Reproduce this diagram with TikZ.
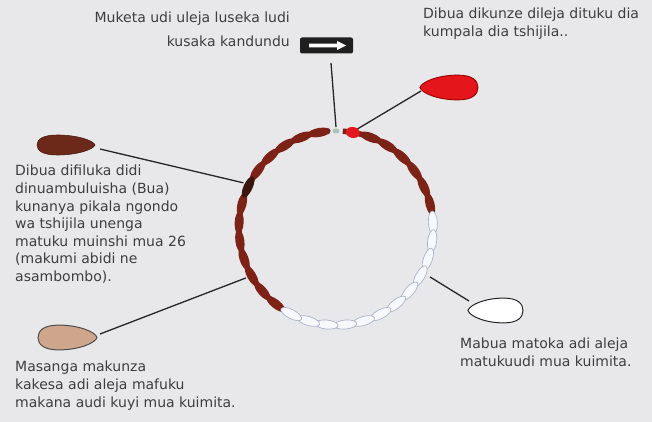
\documentclass[tikz,border=0pt]{standalone}
\usepackage{fontspec}
\setmainfont{DejaVu Sans}
\usetikzlibrary{shapes.geometric,calc}

\definecolor{bgc}{RGB}{232,232,234}
\definecolor{txt}{RGB}{62,62,62}
\definecolor{beadbrown}{RGB}{124,34,22}
\definecolor{beaddark}{RGB}{58,22,14}
\definecolor{beadred}{RGB}{226,24,30}
\definecolor{whitebead}{RGB}{247,248,252}
\definecolor{whiteedge}{RGB}{172,178,204}
\definecolor{ringgrey}{RGB}{170,196,186}
\definecolor{dropred}{RGB}{228,22,28}
\definecolor{dropbrown}{RGB}{108,40,24}
\definecolor{droptan}{RGB}{206,166,140}

\tikzset{
  blurb/.style={font=\fontsize{14}{17.6}\selectfont, text=txt, inner sep=0pt, align=left},
  pointer/.style={draw=black!85, line width=1.3pt},
  bead/.style={ellipse, minimum width=23pt, minimum height=9pt, inner sep=0pt},
  brownbead/.style={bead, fill=beadbrown},
  darkbead/.style={bead, fill=beaddark},
  redbead/.style={bead, fill=beadred},
  whitebeadst/.style={bead, fill=whitebead, draw=whiteedge, line width=0.7pt},
  cord/.style={draw=beadbrown, line width=5.5pt},
  droplet/.pic={\path[pic actions] (1,0) .. controls (0.95,-0.35) and (0.4,-0.8) .. (-0.3,-0.8)
      .. controls (-0.8,-0.8) and (-1,-0.45) .. (-1,0)
      .. controls (-1,0.45) and (-0.8,0.8) .. (-0.3,0.8)
      .. controls (0.4,0.8) and (0.95,0.35) .. (1,0) -- cycle;},
}

\begin{document}
\begin{tikzpicture}[x=1pt,y=-1pt]
\fill[bgc] (0,0) rectangle (652,422);
\useasboundingbox (0,0) rectangle (652,422);

% centre of the bead necklace; y grows downwards, so polar angles are negated
\coordinate (c) at (336,228);

% ends of the pointer lines
\coordinate (ringend) at ($(c)+(-90:101)$);
\coordinate (redend) at ($(c)+(-78:101)$);
\coordinate (darkend) at ($(c)+(-154:103)$);
\coordinate (tanend) at ($(c)+(-209:103)$);
\coordinate (whiteend) at ($(c)+(27.5:106)$);

\coordinate (boxfoot) at (331,63);
\coordinate (redtip) at (421,91);
\coordinate (browntip) at (100,149);
\coordinate (tantip) at (100,334);
\coordinate (whitetip) at (469,301);

% pointer lines
\draw[pointer] (boxfoot) -- (ringend);
\draw[pointer] (redtip) -- (redend);
\draw[pointer] (browntip) -- (darkend);
\draw[pointer] (tantip) -- (tanend);
\draw[pointer] (whiteend) -- (whitetip);

% cord under the brown beads
\draw[cord] ($(c)+(-9:97)$) arc[start angle=-9, end angle=-86, radius=97];
\draw[cord] ($(c)+(-94:97)$) arc[start angle=-94, end angle=-236, radius=97];

% beads: one every 10.97 degrees, clockwise from the red start bead
\foreach \k in {2,...,7}{
  \pgfmathsetmacro\ang{80-10.97*(\k-1)}
  \node[brownbead, rotate=\ang+90] (bead-\k) at ($(c)+(-\ang:97)$) {};
}
\foreach \k in {20,...,26}{
  \pgfmathsetmacro\ang{80-10.97*(\k-1)}
  \node[brownbead, rotate=\ang+90] (bead-\k) at ($(c)+(-\ang:97)$) {};
}
\foreach \k in {28,...,32}{
  \pgfmathsetmacro\ang{80-10.97*(\k-1)}
  \node[brownbead, rotate=\ang+90] (bead-\k) at ($(c)+(-\ang:97)$) {};
}
\foreach \k in {8,...,19}{
  \pgfmathsetmacro\ang{80-10.97*(\k-1)}
  \node[whitebeadst, rotate=\ang+90] (bead-\k) at ($(c)+(-\ang:97)$) {};
}
\node[darkbead, rotate=155+90] (bead-27) at ($(c)+(-155:97)$) {};
\node[redbead, minimum width=14pt, minimum height=11pt, rotate=170] (bead-1) at ($(c)+(-80:97)$) {};
\node[ellipse, fill=ringgrey, minimum width=7pt, minimum height=5pt, inner sep=0pt] (ring) at ($(c)+(-90:97)$) {};

% direction marker
\node[fill=black!88, rounded corners=2pt, minimum width=53pt, minimum height=16pt, inner sep=0pt] (arrowbox) at (326.5,45.5) {};
\fill[white] (309,43.6) -- (337,43.6) -- (337,41) -- (346,45.5) -- (337,50) -- (337,47.4) -- (309,47.4) -- cycle;

% droplets
\pic[fill=dropred, draw=red!60!black, line width=0.9pt, xscale=-29, yscale=15.5] (reddrop) at (449,87.5) {droplet};
\pic[fill=dropbrown, draw=dropbrown!70!black, line width=0.6pt, xscale=29, yscale=12.5] (browndrop) at (66,145) {droplet};
\pic[fill=droptan, draw=black!70, line width=1pt, xscale=29.5, yscale=15.5] (tandrop) at (67.5,337.5) {droplet};
\pic[fill=white, draw=black!85, line width=1pt, xscale=-27.5, yscale=15.5] (whitedrop) at (495.5,310.5) {droplet};

% captions
\node[blurb, align=right, anchor=north east, font=\fontsize{14}{24}\selectfont] (capdir) at (290,12.1)
  {Muketa udi uleja luseka ludi\\kusaka kandundu};
\node[blurb, anchor=north west] (capred) at (423,8.1)
  {Dibua dikunze dileja dituku dia\\kumpala dia tshijila..};
\node[blurb, anchor=north west] (capdark) at (15,165.1)
  {Dibua difiluka didi\\dinuambuluisha (Bua)\\kunanya pikala ngondo\\wa tshijila unenga\\matuku muinshi mua 26\\(makumi abidi ne\\asambombo).};
\node[blurb, anchor=north west] (captan) at (15,361.1)
  {Masanga makunza\\kakesa adi aleja mafuku\\makana audi kuyi mua kuimita.};
\node[blurb, anchor=north west] (capwhite) at (460,338.1)
  {Mabua matoka adi aleja\\matukuudi mua kuimita.};
\end{tikzpicture}
\end{document}
